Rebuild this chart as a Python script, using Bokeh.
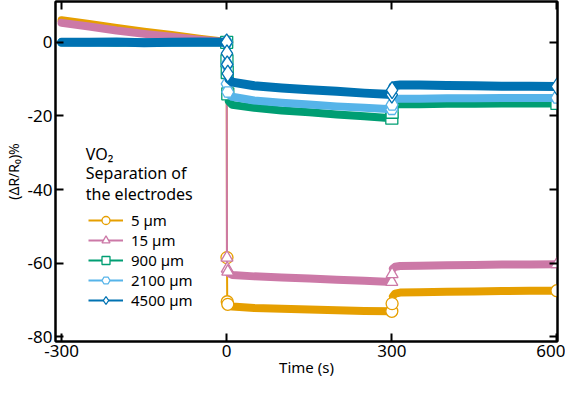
from bokeh.plotting import figure
from bokeh.models import (LinearAxis, FixedTicker, Legend, LegendItem, Label, Range1d,
                          CustomJSTickFormatter)
from bokeh.embed import file_html
from bokeh.resources import INLINE

# ---- data ----
TIME = [-300, -250, -200, -150, -100, -50, 0, 0.5, 1, 2, 4, 10, 50, 100, 150, 200, 250, 300,
        300.5, 302, 306, 315, 350, 400, 450, 500, 550, 600]
S5 = [6.0, 5.0, 3.9, 2.9, 2.0, 1.0, 0.1, -58.5, -70.5, -71.2, -71.5, -71.8, -72.2, -72.4, -72.6,
      -72.8, -73.0, -73.1, -71.0, -69.0, -68.3, -68.0, -67.9, -67.8, -67.7, -67.6, -67.5, -67.5]
S15 = [5.3, 4.3, 3.2, 2.3, 1.5, 0.7, 0.0, -58.5, -61.5, -62.3, -62.8, -63.2, -63.6, -63.9, -64.2,
       -64.5, -64.8, -65.1, -63.0, -61.5, -61.0, -60.8, -60.7, -60.6, -60.5, -60.4, -60.4, -60.3]
S900 = [0.0, 0.1, -0.1, 0.0, 0.1, 0.0, 0.0, -5.0, -8.2, -14.0, -16.0, -17.0, -17.8, -18.5, -19.0,
        -19.6, -20.1, -20.6, -19.0, -17.5, -17.0, -16.8, -16.8, -16.7, -16.7, -16.6, -16.6, -16.6]
S2100 = [0.0, -0.1, 0.1, 0.0, -0.1, 0.0, 0.0, -6.0, -11.3, -13.5, -14.2, -14.8, -15.8, -16.4, -16.9,
         -17.4, -17.8, -18.2, -17.0, -15.8, -15.4, -15.3, -15.3, -15.2, -15.2, -15.1, -15.1, -15.1]
S4500 = [0.0, 0.0, 0.1, -0.1, 0.0, 0.1, 0.0, -3.0, -6.0, -8.5, -10.0, -10.8, -11.8, -12.4, -12.9,
         -13.3, -13.8, -14.2, -13.0, -12.0, -11.7, -11.6, -11.6, -11.7, -11.8, -11.9, -11.9, -12.0]
LABELS = ["5 µm", "15 µm", "900 µm", "2100 µm", "4500 µm"]
COLORS = ["#E69F00", "#CC79A7", "#009E73", "#56B4E9", "#0072B2"]
MARKERS = ["circle", "triangle", "square", "hex", "diamond"]
SERIES = [S5, S15, S900, S2100, S4500]
BAND_WIDTHS = [8, 8, 8, 8, 9]
X_TICKS = [-300, 0, 300, 600]
Y_TICKS = [-80, -60, -40, -20, 0]
MARK_IDX = [6, 7, 8, 9, 17, 18, 27]
BAND_SEGMENTS = [(0, 7), (10, 18), (19, 28)]
TITLE_LINES = ["VO₂", "Separation of", "the electrodes"]
X_LABEL = "Time (s)"
Y_LABEL = "(ΔR/R₀)%"

FONT = "Noto Sans"
X0, X1, Y0, Y1 = -311, 601, -81.3, 11.1

p = figure(width=565, height=379, output_backend="svg", toolbar_location=None,
           x_range=Range1d(X0, X1), y_range=Range1d(Y0, Y1),
           min_border_left=50, min_border_right=8, min_border_top=1, min_border_bottom=0)
p.grid.visible = False
p.outline_line_color = "black"
p.outline_line_width = 2
p.background_fill_color = "white"
p.border_fill_color = "white"

items = []
for ys, lab, col, mk, bw in zip(SERIES, LABELS, COLORS, MARKERS, BAND_WIDTHS):
    for a, b in BAND_SEGMENTS:
        p.line(TIME[a:b], ys[a:b], line_color=col, line_width=bw, line_cap="round", line_join="round")
    thin = p.line(TIME, ys, line_color=col, line_width=2)
    mx = [TIME[i] for i in MARK_IDX]
    my = [ys[i] for i in MARK_IDX]
    sc = p.scatter(mx, my, marker=mk, size=12 if mk != "diamond" else 17, fill_color="white",
                   line_color=col, line_width=1.3)
    items.append(LegendItem(label=lab, renderers=[thin, sc]))

legend = Legend(items=items, location=(33, 31), background_fill_alpha=0, border_line_alpha=0,
                label_text_font=FONT, label_text_font_size="15px", label_text_color="black",
                glyph_width=35, glyph_height=20, label_height=20, spacing=0, padding=0, margin=0,
                label_standoff=8)
p.add_layout(legend)

for txt, yv in zip(TITLE_LINES, [-30.3, -35.6, -41.2]):
    p.add_layout(Label(x=-256, y=yv, text=txt, text_font=FONT, text_font_size="16px",
                       text_baseline="middle", text_color="black"))

hyphen = CustomJSTickFormatter(code="return tick.toString();")
blank = CustomJSTickFormatter(code="return '';")

def style(ax, labels=True):
    ax.axis_line_width = 2
    ax.axis_line_color = "black"
    ax.major_tick_in = 8
    ax.major_tick_out = 0
    ax.major_tick_line_width = 2
    ax.minor_tick_line_color = None
    ax.major_label_text_font = FONT
    ax.major_label_text_font_size = "17px"
    ax.major_label_text_color = "black"
    ax.formatter = hyphen if labels else blank
    if not labels:
        ax.major_label_standoff = 0

p.xaxis.ticker = FixedTicker(ticks=X_TICKS)
p.yaxis.ticker = FixedTicker(ticks=Y_TICKS)
style(p.xaxis[0])
style(p.yaxis[0])
p.xaxis.major_label_standoff = 3
p.yaxis.major_label_standoff = 3
p.xaxis.axis_label = X_LABEL
p.yaxis.axis_label = Y_LABEL
p.xaxis.axis_label_text_font_size = "15px"
p.yaxis.axis_label_text_font_size = "14px"
for ax in (p.xaxis[0], p.yaxis[0]):
    ax.axis_label_text_font = FONT
    ax.axis_label_text_font_style = "normal"
    ax.axis_label_text_color = "black"
p.xaxis.axis_label_standoff = -3
p.yaxis.axis_label_standoff = 2

top = LinearAxis(ticker=FixedTicker(ticks=X_TICKS))
right = LinearAxis(ticker=FixedTicker(ticks=Y_TICKS))
style(top, False)
style(right, False)
p.add_layout(top, "above")
p.add_layout(right, "right")

open("out.html", "w").write(file_html(p, INLINE))
